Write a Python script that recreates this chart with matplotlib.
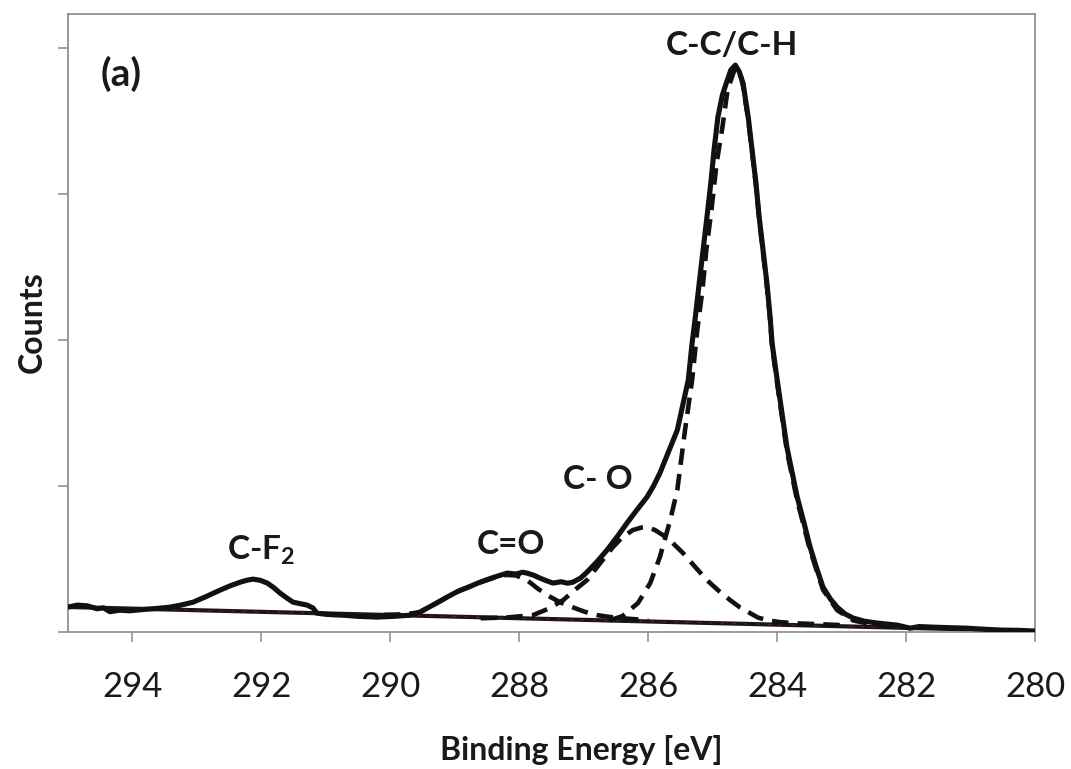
import numpy as np
import matplotlib.pyplot as plt

plt.rcParams['font.family'] = ['Lato', 'DejaVu Sans']
plt.rcParams['mathtext.fontset'] = 'custom'
plt.rcParams['mathtext.rm'] = 'Lato'
plt.rcParams['mathtext.bf'] = 'Lato:bold'
plt.rcParams['mathtext.default'] = 'bf'

# C 1s spectrum (measured)
energia = [295.00, 294.85, 294.70, 294.55, 294.45, 294.35, 294.20, 294.05, 293.93, 293.75,
           293.60, 293.42, 293.25, 293.06, 292.85, 292.64, 292.48, 292.33, 292.22, 292.13,
           292.02, 291.91, 291.81, 291.71, 291.60, 291.51, 291.40, 291.29, 291.20, 291.14,
           291.00, 290.85, 290.73, 290.50, 290.21, 289.95, 289.70, 289.55, 289.43, 289.28,
           289.12, 288.95, 288.78, 288.61, 288.40, 288.19, 288.05, 287.95, 287.88, 287.78,
           287.68, 287.58, 287.48, 287.35, 287.25, 287.17, 287.05, 286.95, 286.80, 286.64,
           286.48, 286.33, 286.18, 286.02, 285.92, 285.82, 285.70, 285.55, 285.45, 285.38,
           285.32, 285.27, 285.21, 285.15, 285.09, 285.03, 284.98, 284.92, 284.85, 284.79,
           284.72, 284.65, 284.59, 284.53, 284.45, 284.39, 284.33, 284.28, 284.22, 284.16,
           284.11, 284.08, 284.00, 283.85, 283.69, 283.58, 283.49, 283.39, 283.29, 283.18,
           283.07, 282.95, 282.82, 282.65, 282.45, 282.30, 282.14, 281.94, 281.80, 281.58,
           281.30, 281.06, 280.80, 280.54, 280.25, 280.00]
cuentas = [172, 185, 180, 160, 166, 140, 150, 146, 151, 158,
           163, 171, 185, 205, 245, 288, 318, 342, 356, 363,
           355, 336, 305, 267, 232, 205, 195, 185, 165, 130,
           122, 118, 116, 108, 103, 108, 116, 135, 164, 200,
           240, 280, 310, 342, 375, 404, 398, 410, 404, 390,
           370, 352, 336, 345, 335, 342, 370, 411, 480, 562,
           655, 747, 835, 925, 1000, 1089, 1220, 1384, 1585, 1726,
           1980, 2158, 2390, 2617, 2843, 3076, 3302, 3528, 3680, 3760,
           3850, 3884, 3840, 3760, 3528, 3302, 3076, 2843, 2617, 2390,
           2158, 1980, 1726, 1267, 925, 740, 582, 440, 308, 230,
           171, 125, 96, 75, 62, 55, 48, 27, 38, 34,
           30, 27, 20, 14, 12, 7]

# componentes del ajuste
e_cc = [286.60, 286.40, 286.16, 285.97, 285.82, 285.66, 285.55, 285.43, 285.32, 285.24,
        285.16, 285.10, 285.02, 284.94, 284.85, 284.77, 284.65, 284.56, 284.53, 284.45,
        284.39, 284.33, 284.28, 284.22, 284.16, 284.11, 284.08, 284.00, 283.85, 283.69,
        283.49, 283.29, 283.07, 282.82, 282.45, 282.20]
c_cc = [80, 110, 199, 336, 514, 767, 973, 1384, 1726, 2069,
        2343, 2617, 2891, 3213, 3459, 3713, 3870, 3800, 3740, 3510,
        3290, 3060, 2830, 2600, 2370, 2140, 1960, 1700, 1240, 900,
        560, 290, 150, 80, 45, 35]

e_co = [288.60, 288.20, 287.79, 287.55, 287.32, 287.15, 286.95, 286.75, 286.55, 286.40,
        286.24, 286.10, 286.02, 285.90, 285.77, 285.62, 285.46, 285.28, 285.09, 284.90,
        284.73, 284.58, 284.42, 284.30, 284.16, 283.95, 283.70, 283.40, 283.00]
c_co = [95, 100, 116, 160, 219, 285, 356, 470, 582, 650,
        699, 717, 719, 700, 664, 610, 541, 450, 356, 280,
        219, 170, 130, 100, 82, 68, 60, 55, 48]

e_c_o = [290.10, 289.80, 289.55, 289.43, 289.28, 289.12, 288.95, 288.78, 288.61, 288.40,
         288.20, 288.05, 287.88, 287.72, 287.57, 287.37, 287.20, 287.06, 286.92, 286.79,
         286.60, 286.44, 286.20, 286.00]
c_c_o = [118, 122, 135, 164, 200, 240, 280, 310, 340, 372,
         392, 388, 356, 300, 253, 205, 175, 151, 130, 116,
         104, 96, 88, 80]

# linea de base
e_base = [295.0, 280.0]
c_base = [172, 7]

xticks = [294, 292, 290, 288, 286, 284, 282, 280]
yticks = [0, 1000, 2000, 3000, 4000]

fig = plt.figure(figsize=(10.71, 7.69), dpi=100)
ax = fig.add_axes([0.0635, 0.178, 0.903, 0.8036])

ax.plot(e_base, c_base, color='#1e1512', lw=3.0, solid_capstyle='butt', zorder=2)
ax.plot(e_base, c_base, color='#c0392b', lw=0.7, linestyle=(0, (3, 9)), alpha=0.5, zorder=2)

dash = (0, (3.6, 2.0))
ax.plot(e_cc, c_cc, color='#111111', lw=3.3, linestyle=dash, zorder=3)
ax.plot(e_co, c_co, color='#111111', lw=3.3, linestyle=dash, zorder=3)
ax.plot(e_c_o, c_c_o, color='#111111', lw=3.3, linestyle=dash, zorder=3)

ax.plot(energia, cuentas, color='#111111', lw=3.7, solid_joinstyle='round', zorder=4)

ax.set_xlim(295, 280)
ax.set_ylim(0, 4233)
ax.set_xticks(xticks)
ax.set_yticks(yticks)
ax.set_yticklabels([])
ax.tick_params(axis='both', direction='out', length=7, width=1.1, color='#8a8a8a')
ax.tick_params(axis='x', labelsize=25, pad=21, labelcolor='#1a1a1a')
for s in ax.spines.values():
    s.set_color('#8a8a8a')
    s.set_linewidth(1.2)

tk = dict(fontsize=24, fontweight='bold', color='#1a1a1a', ha='center', va='center')
ax.text(0.055, 0.903, '(a)', transform=ax.transAxes,
        **{**tk, 'fontsize': 28})
ax.text(284.70, 4020, 'C-C/C-H', **tk)
ax.text(286.78, 1048, 'C- O', **tk)
ax.text(288.13, 603, 'C=O', **tk)
ax.text(292.0, 560, r'C-F$_2$', **tk)

fig.text(0.543, 1 - 750 / 769, 'Binding Energy [eV]', fontsize=23, fontweight='bold',
         color='#1a1a1a', ha='center', va='center')
fig.text(0.030, 1 - 322 / 769, 'Counts', fontsize=23, fontweight='bold', rotation=90,
         color='#1a1a1a', ha='center', va='center')

fig.savefig('out.png', dpi=100)
